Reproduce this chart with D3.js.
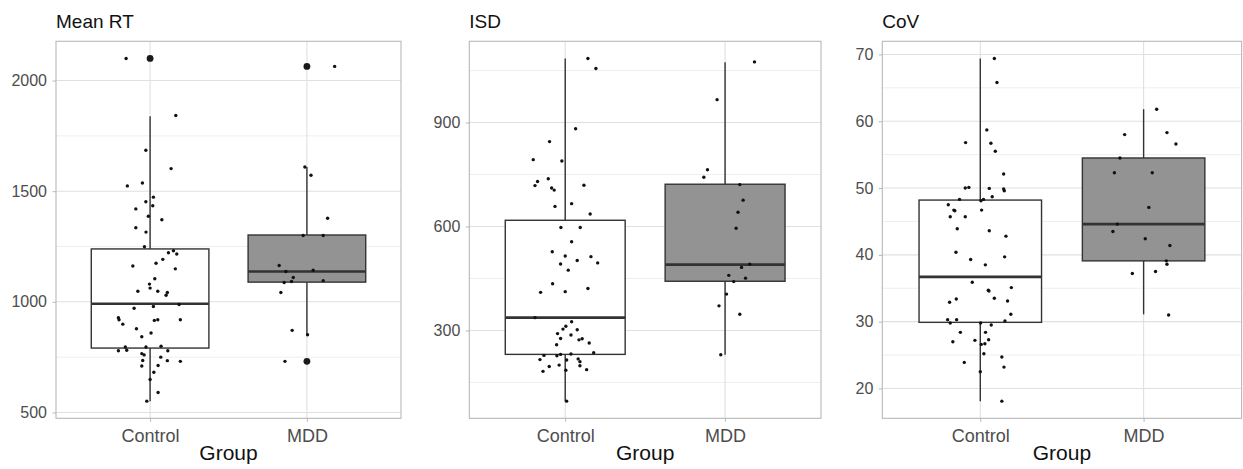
<!DOCTYPE html>
<html>
<head>
<meta charset="utf-8">
<script src="https://cdn.jsdelivr.net/npm/d3@7"></script>
<style>
  body { margin: 0; background: #fff; }
  svg { display: block; font-family: "Liberation Sans", Arial, sans-serif; }
</style>
</head>
<body>
<div id="chart"></div>
<script>
// groups + panel titles
const groups = ["Control", "MDD"];
const panelTitles = ["Mean RT", "ISD", "CoV"];

// jittered points: [value, jitter offset in category units]
const meanRtControl = [[2100,-0.153],[1842,0.164],[1685,-0.027],[1602,0.134],[1524,-0.145],[1537,-0.049],[1473,0.021],[1452,-0.027],[1434,0.017],[1420,-0.091],[1387,-0.011],[1371,0.075],[1335,-0.091],[1315,-0.026],[1249,-0.036],[1231,0.149],[1222,0.117],[1216,0.170],[1192,0.081],[1174,0.038],[1162,-0.110],[1149,0.161],[1104,0.030],[1080,-0.004],[1062,0.0],[1048,-0.078],[1048,0.049],[1042,0.110],[1030,0.102],[971,-0.102],[979,0.021],[988,0.185],[928,-0.202],[919,-0.198],[916,0.027],[919,0.049],[919,0.193],[899,-0.174],[878,-0.087],[859,0.006],[842,-0.053],[796,-0.158],[796,-0.026],[799,0.070],[779,-0.202],[781,-0.149],[779,0.113],[766,-0.053],[760,-0.038],[750,0.068],[735,-0.047],[734,0.110],[731,0.193],[710,-0.053],[712,0.051],[682,0.024],[649,0.0],[590,0.051],[551,-0.021]];
const meanRtMdd = [[2064,0.177],[1609,-0.013],[1572,0.026],[1378,0.132],[1300,-0.024],[1300,0.104],[1164,-0.177],[1137,-0.134],[1143,0.040],[1110,-0.087],[1087,-0.145],[1092,-0.098],[1096,0.104],[1042,-0.166],[871,-0.094],[851,0.004],[731,-0.140]];

const isdControl = [[1085,0.142],[1056,0.192],[882,0.065],[845,-0.098],[793,-0.2],[789,-0.021],[738,-0.106],[730,-0.173],[718,-0.189],[711,-0.085],[705,-0.069],[719,0.117],[666,0.040],[658,-0.064],[636,0.156],[597,-0.027],[597,0.094],[556,0.040],[527,-0.081],[515,0.0],[513,0.161],[502,0.075],[492,-0.029],[495,0.203],[474,0.019],[435,-0.079],[421,0.142],[410,-0.154],[412,0.0],[337,-0.189],[325,0.040],[312,0.004],[304,-0.014],[302,0.075],[291,-0.048],[287,0.036],[277,-0.029],[276,0.106],[273,0.086],[264,0.150],[259,-0.054],[236,0.178],[228,-0.133],[216,-0.158],[227,-0.052],[231,-0.029],[232,0.036],[215,0.009],[218,0.081],[210,0.092],[196,-0.1],[200,-0.038],[198,0.092],[182,-0.139],[185,0.004],[187,0.134],[96,0.009]];
const isdMdd = [[1075,0.184],[966,-0.05],[764,-0.11],[742,-0.133],[721,0.092],[676,0.113],[641,0.081],[595,0.069],[491,0.154],[482,0.103],[459,0.023],[451,0.128],[441,0.054],[405,0.009],[371,-0.038],[347,0.092],[230,-0.027]];

const covControl = [[69.4,0.086],[65.8,0.102],[58.7,0.040],[56.8,-0.090],[56.7,0.065],[55.5,0.092],[52.1,0.143],[50.0,-0.092],[50.1,-0.070],[49.95,0.055],[49.85,0.143],[49.6,0.147],[48.7,0.073],[48.3,-0.127],[48.3,0.020],[48.1,0.004],[47.5,-0.196],[46.7,-0.162],[46.6,-0.156],[46.7,0.008],[45.7,-0.184],[45.7,-0.092],[43.9,-0.141],[43.6,0.055],[42.8,0.157],[40.4,-0.149],[39.7,0.149],[39.3,-0.059],[38.5,0.031],[35.9,-0.049],[35.1,0.190],[34.7,0.049],[34.6,0.053],[33.5,0.086],[33.4,-0.147],[32.9,-0.188],[33.1,0.167],[31.1,0.187],[30.3,-0.2],[30.3,-0.145],[30.1,0.151],[29.8,-0.184],[29.8,0.002],[29.5,0.067],[28.4,-0.122],[28.4,0.032],[27.0,-0.168],[27.2,-0.033],[27.3,0.051],[26.7,0.028],[26.6,0.006],[25.2,0.022],[24.7,0.132],[23.9,-0.098],[23.2,0.145],[22.5,0.0],[18.1,0.132]];
const covMdd = [[61.8,0.080],[58.0,-0.116],[58.3,0.143],[56.6,0.198],[54.5,-0.145],[52.3,-0.179],[52.3,0.053],[47.1,0.032],[44.6,-0.161],[43.5,-0.188],[42.4,0.010],[41.4,0.161],[39.1,0.139],[38.6,0.143],[37.2,-0.069],[37.5,0.073],[31.0,0.153]];

// box stats: [lower whisker, q1, median, q3, upper whisker]
const meanRtBoxes = [[551, 791, 991, 1239, 1839], [851, 1089, 1137, 1302, 1609]];
const isdBoxes = [[96, 231, 337, 618, 1085], [230, 442, 490, 722, 1074]];
const covBoxes = [[18.1, 29.9, 36.7, 48.2, 69.4], [31.1, 39.1, 44.6, 54.5, 61.8]];

// outliers per group
const meanRtOutliers = [[2100], [2064, 731]];
const isdOutliers = [[], []];
const covOutliers = [[], []];

// tick values
const meanRtTicks = [500, 1000, 1500, 2000];
const meanRtMinor = [750, 1250, 1750];
const isdTicks = [300, 600, 900];
const isdMinor = [150, 450, 750, 1050];
const covTicks = [20, 30, 40, 50, 60, 70];
const covMinor = [25, 35, 45, 55, 65];

const W = 1243, H = 469;
const plotTop = 41.3, plotBottom = 418.3;
const panelX = [[56, 401], [469.3, 821], [882.3, 1241.6]];

const panels = [
  { title: panelTitles[0], pts: [meanRtControl, meanRtMdd], boxes: meanRtBoxes, outliers: meanRtOutliers, ticks: meanRtTicks, minor: meanRtMinor },
  { title: panelTitles[1], pts: [isdControl, isdMdd], boxes: isdBoxes, outliers: isdOutliers, ticks: isdTicks, minor: isdMinor },
  { title: panelTitles[2], pts: [covControl, covMdd], boxes: covBoxes, outliers: covOutliers, ticks: covTicks, minor: covMinor }
];

const svg = d3.select("#chart").append("svg").attr("width", W).attr("height", H);

panels.forEach((p, i) => {
  const [x0, x1] = panelX[i];
  const allVals = p.pts.flat().map(d => d[0]);
  const [lo, hi] = d3.extent(allVals);
  const pad = (hi - lo) * 0.05;
  const y = d3.scaleLinear().domain([lo - pad, hi + pad]).range([plotBottom, plotTop]);
  const x = d3.scaleLinear().domain([0.4, 2.6]).range([x0, x1]);
  const unit = x(1) - x(0);
  const g = svg.append("g");

  // grid
  g.selectAll("line.minor").data(p.minor).join("line")
    .attr("x1", x0).attr("x2", x1)
    .attr("y1", d => y(d)).attr("y2", d => y(d))
    .attr("stroke", "#eeeeee").attr("stroke-width", 1);
  g.selectAll("line.major").data(p.ticks).join("line")
    .attr("x1", x0).attr("x2", x1)
    .attr("y1", d => y(d)).attr("y2", d => y(d))
    .attr("stroke", "#e0e0e0").attr("stroke-width", 1.1);
  g.selectAll("line.vgrid").data(groups).join("line")
    .attr("x1", (d, j) => x(j + 1)).attr("x2", (d, j) => x(j + 1))
    .attr("y1", plotTop).attr("y2", plotBottom)
    .attr("stroke", "#e0e0e0").attr("stroke-width", 1.1);

  // boxes
  p.boxes.forEach((b, j) => {
    const cx = x(j + 1);
    const half = unit * 0.375;
    g.append("line").attr("x1", cx).attr("x2", cx).attr("y1", y(b[3])).attr("y2", y(b[4]))
      .attr("stroke", "#333").attr("stroke-width", 1.4);
    g.append("line").attr("x1", cx).attr("x2", cx).attr("y1", y(b[1])).attr("y2", y(b[0]))
      .attr("stroke", "#333").attr("stroke-width", 1.4);
    g.append("rect").attr("x", cx - half).attr("width", half * 2)
      .attr("y", y(b[3])).attr("height", y(b[1]) - y(b[3]))
      .attr("fill", j === 0 ? "#ffffff" : "#939393")
      .attr("stroke", "#333").attr("stroke-width", 1.4);
    g.append("line").attr("x1", cx - half).attr("x2", cx + half).attr("y1", y(b[2])).attr("y2", y(b[2]))
      .attr("stroke", "#333").attr("stroke-width", 2.6);
    g.selectAll(null).data(p.outliers[j]).join("circle")
      .attr("cx", cx).attr("cy", d => y(d)).attr("r", 3.4).attr("fill", "#1a1a1a");
  });

  // jittered points
  p.pts.forEach((arr, j) => {
    g.selectAll(null).data(arr).join("circle")
      .attr("cx", d => x(j + 1 + d[1])).attr("cy", d => y(d[0]))
      .attr("r", 1.7).attr("fill", "#111");
  });

  // border
  g.append("rect").attr("x", x0).attr("y", plotTop).attr("width", x1 - x0).attr("height", plotBottom - plotTop)
    .attr("fill", "none").attr("stroke", "#b8b8b8").attr("stroke-width", 1.1);

  // axes
  const ya = g.append("g").attr("transform", `translate(${x0},0)`)
    .call(d3.axisLeft(y).tickValues(p.ticks).tickFormat(d3.format("d")).tickSize(3.5).tickPadding(5.5));
  ya.select(".domain").remove();
  ya.selectAll("line").attr("stroke", "#b8b8b8");
  ya.selectAll("text").attr("fill", "#4d4d4d").style("font-size", "16px");

  const xa = g.append("g").attr("transform", `translate(0,${plotBottom})`)
    .call(d3.axisBottom(x).tickValues([1, 2]).tickFormat((d, k) => groups[k]).tickSize(3.5).tickPadding(7));
  xa.select(".domain").remove();
  xa.selectAll("line").attr("stroke", "#b8b8b8");
  xa.selectAll("text").attr("fill", "#4d4d4d").style("font-size", "18px");

  g.append("text").attr("x", (x0 + x1) / 2).attr("y", 460).attr("text-anchor", "middle")
    .attr("fill", "#111").style("font-size", "21px").text("Group");
  g.append("text").attr("x", x0).attr("y", 28)
    .attr("fill", "#111").style("font-size", "19px").text(p.title);
});
</script>
</body>
</html>
